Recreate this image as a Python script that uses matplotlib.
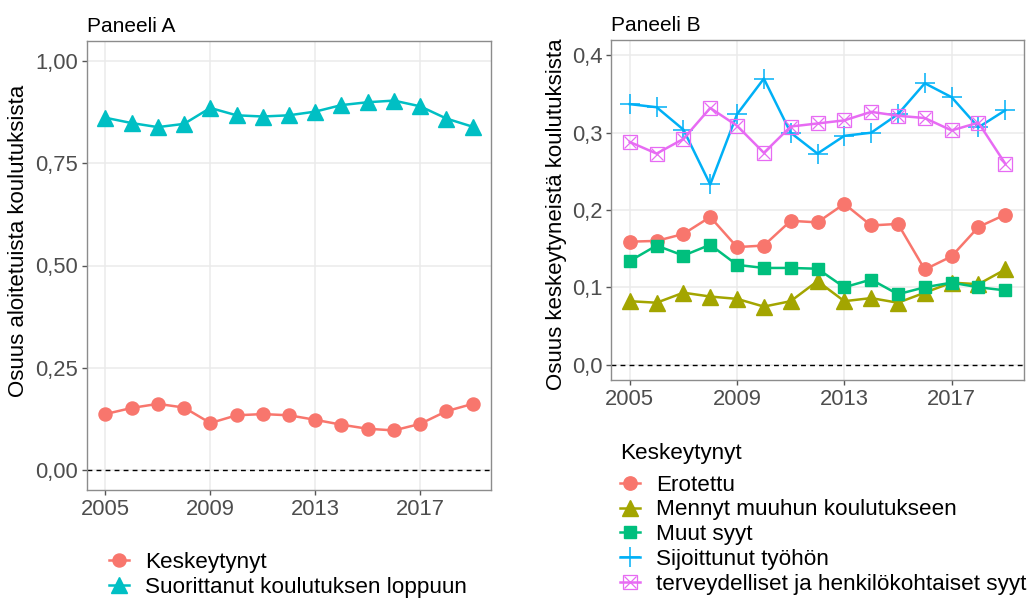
import numpy as np
import matplotlib
matplotlib.use('Agg')
import matplotlib.pyplot as plt
from matplotlib.legend_handler import HandlerTuple
from matplotlib.ticker import FixedLocator, FuncFormatter

plt.rcParams['font.family'] = ['Liberation Sans', 'DejaVu Sans']

years = list(range(2005, 2020))

# Paneeli A
keskeytynyt = [0.136, 0.151, 0.161, 0.152, 0.114, 0.133, 0.136, 0.133, 0.122,
               0.110, 0.100, 0.096, 0.112, 0.143, 0.161]
suorittanut = [0.862, 0.849, 0.839, 0.847, 0.886, 0.868, 0.865, 0.868, 0.877,
               0.893, 0.900, 0.904, 0.890, 0.860, 0.840]

# Paneeli B
erotettu = [0.159, 0.160, 0.169, 0.191, 0.152, 0.154, 0.186, 0.184, 0.208,
            0.180, 0.182, 0.123, 0.140, 0.178, 0.194]
mennyt = [0.082, 0.080, 0.093, 0.088, 0.085, 0.075, 0.082, 0.108, 0.082,
          0.086, 0.080, 0.093, 0.106, 0.104, 0.123]
muut = [0.134, 0.154, 0.141, 0.155, 0.129, 0.125, 0.125, 0.124, 0.100,
        0.110, 0.091, 0.100, 0.106, 0.100, 0.096]
sijoittunut = [0.337, 0.333, 0.304, 0.233, 0.324, 0.370, 0.300, 0.273, 0.296,
               0.300, 0.324, 0.364, 0.346, 0.307, 0.329]
terveys = [0.288, 0.273, 0.292, 0.332, 0.309, 0.274, 0.308, 0.312, 0.316,
           0.327, 0.322, 0.319, 0.303, 0.313, 0.260]

labels_a = ['Keskeytynyt', 'Suorittanut koulutuksen loppuun']
labels_b = ['Erotettu', 'Mennyt muuhun koulutukseen', 'Muut syyt',
            'Sijoittunut työhön', 'terveydelliset ja henkilökohtaiset syyt']

W, H = 1030, 598
fig = plt.figure(figsize=(W / 100, H / 100), dpi=100)

TICK_FS = 15.8
LAB_FS = 16
LEG_FS = 16.2


def px_axes(l, t, r, b):
    return fig.add_axes([l / W, 1 - b / H, (r - l) / W, (b - t) / H])


def style(ax, yticks, fmt):
    ax.set_xlim(2004.3, 2019.7)
    ax.xaxis.set_major_locator(FixedLocator([2005, 2009, 2013, 2017]))
    ax.yaxis.set_major_locator(FixedLocator(yticks))
    ax.yaxis.set_major_formatter(FuncFormatter(lambda v, p: (fmt % v).replace('.', ',')))
    ax.grid(True, color='#EBEBEB', lw=1.1, zorder=0)
    ax.set_axisbelow(True)
    for s in ax.spines.values():
        s.set_color('#8C8C8C')
        s.set_linewidth(1.0)
    ax.tick_params(length=3.8, width=1, color='#555555', labelcolor='#4D4D4D',
                   labelsize=TICK_FS, pad=2.5)
    ax.axhline(0, color='black', ls=(0, (3.5, 3)), lw=1.0, zorder=1)


lw = 1.8

# ---- Paneeli A
axA = px_axes(87, 41, 491, 490)
h1, = axA.plot(years, keskeytynyt, color='#F8766D', lw=lw, marker='o', ms=9.4, zorder=3)
h2, = axA.plot(years, suorittanut, color='#00BFC4', lw=lw, marker='^', ms=11.5, zorder=3)
axA.set_ylim(-0.05, 1.05)
style(axA, [0, 0.25, 0.5, 0.75, 1.0], '%.2f')
axA.set_ylabel('Osuus aloitetuista koulutuksista', fontsize=LAB_FS)
axA.yaxis.set_label_coords((29 - 87) / 404, 0.555)
axA.set_title('Paneeli A', loc='left', fontsize=15, pad=6.5)

fig.legend([h1, h2], labels_a, loc='upper left', bbox_to_anchor=(109 / W, 1 - 552 / H),
           frameon=False, fontsize=LEG_FS, borderpad=0, handlelength=0.9,
           handletextpad=0.7, labelspacing=0.17, borderaxespad=0)

# ---- Paneeli B
axB = px_axes(611, 40, 1024, 380)
c_ero, c_men, c_muu, c_sij, c_ter = '#F8766D', '#A3A500', '#00BF7D', '#00B0F6', '#E76BF3'
b1, = axB.plot(years, erotettu, color=c_ero, lw=lw, marker='o', ms=9.6, zorder=3)
b2, = axB.plot(years, mennyt, color=c_men, lw=lw, marker='^', ms=11.5, zorder=3)
b3, = axB.plot(years, muut, color=c_muu, lw=lw, marker='s', ms=9, zorder=3)
b4, = axB.plot(years, sijoittunut, color=c_sij, lw=lw, marker='+', ms=14.5, mew=1.1, zorder=3)
b5, = axB.plot(years, terveys, color=c_ter, lw=lw, marker='s', ms=9.8, mfc='none', mew=0.9, zorder=3)
b5x, = axB.plot(years, terveys, color=c_ter, lw=0, marker='x', ms=9.3, mew=0.9, zorder=3)
axB.set_ylim(-0.02, 0.42)
style(axB, [0, 0.1, 0.2, 0.3, 0.4], '%.1f')
axB.set_ylabel('Osuus keskeytyneistä koulutuksista', fontsize=LAB_FS)
axB.yaxis.set_label_coords((567 - 611) / 413, 0.487)
axB.set_title('Paneeli B', loc='left', fontsize=15, pad=6.5)

legB = fig.legend([b1, b2, b3, b4, (b5, b5x)], labels_b, title='Keskeytynyt',
                  loc='upper left', bbox_to_anchor=(620 / W, 1 - 443 / H),
                  frameon=False, fontsize=LEG_FS, title_fontsize=LEG_FS, borderpad=0,
                  handlelength=0.9, handletextpad=0.7, labelspacing=0.17,
                  borderaxespad=0, alignment='left',
                  handler_map={tuple: HandlerTuple(ndivide=1)})
# wider gap between legend title and entries, like in ggplot
if hasattr(legB, '_legend_box'):
    legB._legend_box.sep = 7.6

fig.savefig('out.png', dpi=100)
